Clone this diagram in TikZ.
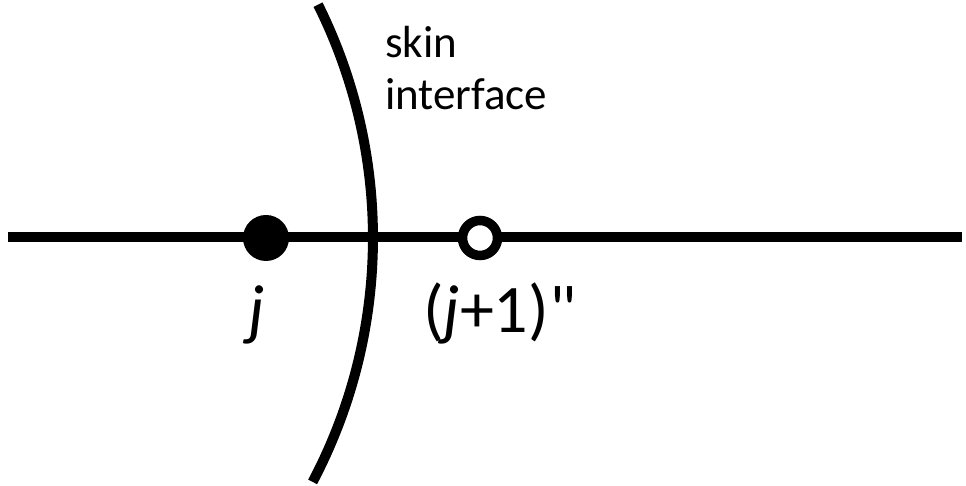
\documentclass[tikz,border=0pt]{standalone}
\usepackage{fontspec}
\setmainfont{Carlito}
\newfontfamily\qfont[Ligatures=NoCommon]{Carlito}
\begin{document}
\begin{tikzpicture}[x=1pt,y=1pt,
  axis/.style={line width=10pt},
  skinline/.style={line width=10pt},
  filleddot/.style={circle,fill=black,inner sep=0pt,minimum size=46pt},
  opendot/.style={circle,draw=black,fill=white,line width=9.5pt,inner sep=0pt,minimum size=35pt},
  lbl/.style={font=\fontsize{68}{80}\selectfont,inner sep=0pt},
  skinlbl/.style={font=\fontsize{45}{52}\selectfont,inner sep=0pt,align=left}]
\useasboundingbox (0,0) rectangle (966,486);
\coordinate (L) at (8,248.5);
\coordinate (R) at (962,248.5);
\draw[axis] (L) -- (R);
\draw[skinline] ([shift={(-150,248)}]26.5:523) arc[start angle=26.5,end angle=-27.8,radius=523];
\node[filleddot] (j) at (266,248) {};
\node[opendot] (jp) at (480,248) {};
\node[lbl,anchor=base] (jl) at (257,153) {\textit{j}};
\node[lbl,anchor=base west] (jpl) at (423,153) {(\textit{j}+1){\qfont\char"22}};
\node[skinlbl,anchor=base west] (s1) at (385,428) {skin};
\node[skinlbl,anchor=base west] (s2) at (385,376) {interface};
\end{tikzpicture}
\end{document}
